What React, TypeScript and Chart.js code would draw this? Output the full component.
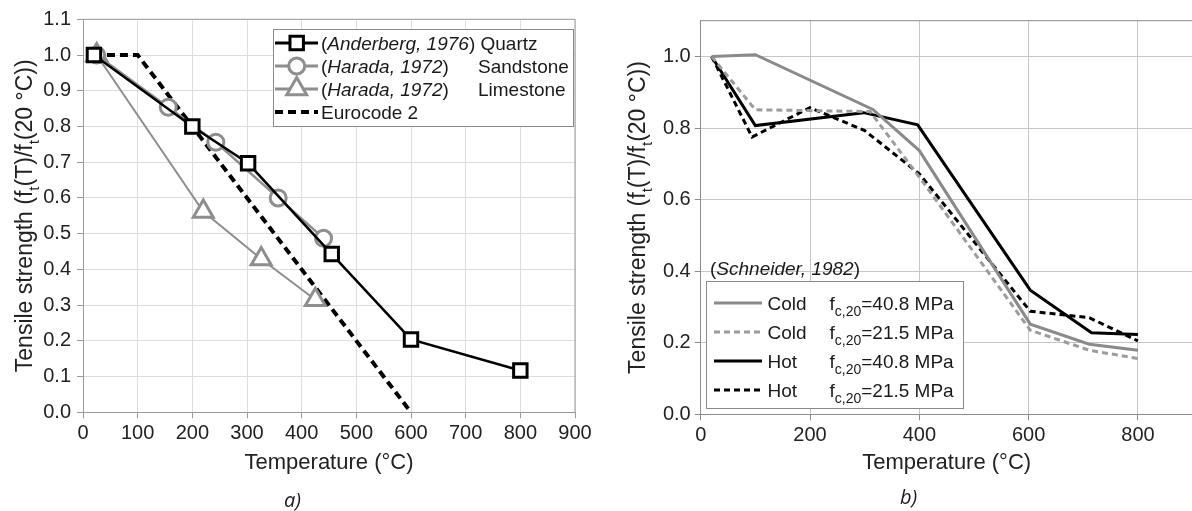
import React, { useEffect, useRef } from 'react';
import { Chart, registerables } from 'chart.js';

Chart.register(...registerables);

// ---------- Panel a) data ----------
const anderbergT = [20, 200, 302, 455, 600, 800];
const anderbergV = [1.0, 0.8, 0.697, 0.443, 0.204, 0.117];
const sandstoneT = [25, 156, 243, 357, 440];
const sandstoneV = [1.0, 0.854, 0.756, 0.6, 0.487];
const limestoneT = [25, 220, 326, 425];
const limestoneV = [1.0, 0.562, 0.429, 0.315];
const eurocodeT = [20, 100, 600];
const eurocodeV = [1.0, 1.0, 0.0];
const ticksXA = [0, 100, 200, 300, 400, 500, 600, 700, 800, 900];
const ticksYA = [0, 0.1, 0.2, 0.3, 0.4, 0.5, 0.6, 0.7, 0.8, 0.9, 1.0, 1.1];
const legendRefA = ['Anderberg, 1976', 'Harada, 1972', 'Harada, 1972', ''];
const legendNameA = ['Quartz', 'Sandstone', 'Limestone', 'Eurocode 2'];

// ---------- Panel b) data ----------
const coldHighT = [20, 100, 315, 400, 603, 711, 800];
const coldHighV = [1.0, 1.005, 0.852, 0.737, 0.252, 0.196, 0.179];
const coldLowT = [20, 100, 310, 400, 603, 711, 800];
const coldLowV = [1.0, 0.851, 0.846, 0.663, 0.235, 0.179, 0.156];
const hotHighT = [20, 100, 298, 397, 603, 715, 800];
const hotHighV = [1.0, 0.807, 0.843, 0.809, 0.347, 0.228, 0.223];
const hotLowT = [20, 94, 200, 300, 400, 603, 711, 800];
const hotLowV = [1.0, 0.775, 0.857, 0.793, 0.672, 0.288, 0.27, 0.205];
const ticksXB = [0, 200, 400, 600, 800];
const ticksYB = [0, 0.2, 0.4, 0.6, 0.8, 1.0];
const legendStateB = ['Cold', 'Cold', 'Hot', 'Hot'];
const legendStrengthB = ['40.8', '21.5', '40.8', '21.5'];
const sourceB = 'Schneider, 1982';

const xTitle = 'Temperature (°C)';
const captions = ['a)', 'b)'];

const FAMILY = '"Liberation Sans", Arial, sans-serif';
const TEXT = '#1a1a1a';

type Run = { t: string; it?: boolean; sub?: boolean; subSize?: number };

function setFont(ctx: any, r: Run, size: number) {
  const s = r.sub ? (r.subSize || Math.round(size * 0.66)) : size;
  ctx.font = `${r.it ? 'italic ' : ''}${s}px ${FAMILY}`;
}
function runsWidth(ctx: any, runs: Run[], size: number) {
  let w = 0;
  for (const r of runs) {
    setFont(ctx, r, size);
    w += ctx.measureText(r.t).width;
  }
  return w;
}
function drawRuns(ctx: any, x: number, y: number, runs: Run[], size: number, color = TEXT) {
  let cx = x;
  ctx.fillStyle = color;
  ctx.textBaseline = 'alphabetic';
  ctx.textAlign = 'left';
  for (const r of runs) {
    setFont(ctx, r, size);
    ctx.fillText(r.t, cx, y + (r.sub ? size * 0.3 : 0));
    cx += ctx.measureText(r.t).width;
  }
  return cx;
}

const yTitleRuns: Run[] = [
  { t: 'Tensile strength (f' },
  { t: 't', sub: true },
  { t: '(T)/f' },
  { t: 't', sub: true },
  { t: '(20 °C))' },
];

function drawYTitle(ctx: any, cx: number, cy: number, size: number) {
  ctx.save();
  ctx.translate(cx, cy);
  ctx.rotate(-Math.PI / 2);
  const w = runsWidth(ctx, yTitleRuns, size);
  drawRuns(ctx, -w / 2, size * 0.36, yTitleRuns, size, '#222');
  ctx.restore();
}

function drawMarker(ctx: any, style: string, x: number, y: number, r: number, stroke: string, lw: number) {
  ctx.save();
  ctx.setLineDash([]);
  ctx.lineWidth = lw;
  ctx.strokeStyle = stroke;
  ctx.fillStyle = '#ffffff';
  ctx.beginPath();
  if (style === 'rect') {
    const s = r * Math.SQRT1_2;
    ctx.rect(x - s, y - s, 2 * s, 2 * s);
  } else if (style === 'circle') {
    ctx.arc(x, y, r, 0, Math.PI * 2);
  } else if (style === 'triangle') {
    let a = 0;
    ctx.moveTo(x + Math.sin(a) * r, y - Math.cos(a) * r);
    a += (2 * Math.PI) / 3;
    ctx.lineTo(x + Math.sin(a) * r, y - Math.cos(a) * r);
    a += (2 * Math.PI) / 3;
    ctx.lineTo(x + Math.sin(a) * r, y - Math.cos(a) * r);
    ctx.closePath();
  }
  ctx.fill();
  ctx.stroke();
  ctx.restore();
}

function drawFrame(chart: any, color: string) {
  const { ctx, chartArea: a } = chart;
  ctx.save();
  ctx.strokeStyle = color;
  ctx.lineWidth = 1;
  ctx.setLineDash([]);
  ctx.beginPath();
  ctx.moveTo(a.left, a.top);
  ctx.lineTo(a.right, a.top);
  ctx.lineTo(a.right, a.bottom);
  ctx.stroke();
  ctx.restore();
}

const pts = (xs: number[], ys: number[]) => xs.map((x, i) => ({ x, y: ys[i] }));

const GRAY = '#8e8e8e';
const X_TITLE_SIZE = 22;
const Y_TITLE_SIZE = 23;

function makeChartA(canvas: HTMLCanvasElement) {
  const datasets: any[] = [
    {
      label: legendNameA[0], data: pts(anderbergT, anderbergV), borderColor: '#000', borderWidth: 2.5,
      pointStyle: 'rect', pointRadius: 9.5, pointBorderWidth: 3, pointBorderColor: '#000', pointBackgroundColor: '#fff', order: 0,
    },
    {
      label: legendNameA[1], data: pts(sandstoneT, sandstoneV), borderColor: GRAY, borderWidth: 2.5,
      pointStyle: 'circle', pointRadius: 8, pointBorderWidth: 3, pointBorderColor: GRAY, pointBackgroundColor: '#fff', order: 1,
    },
    {
      label: legendNameA[2], data: pts(limestoneT, limestoneV), borderColor: GRAY, borderWidth: 2,
      pointStyle: 'triangle', pointRadius: 11.5, pointBorderWidth: 3, pointBorderColor: GRAY, pointBackgroundColor: '#fff', order: 2,
    },
    {
      label: legendNameA[3], data: pts(eurocodeT, eurocodeV), borderColor: '#000', borderWidth: 4, borderDash: [8, 5],
      pointRadius: 0, order: 3,
    },
  ];
  const legendPlugin = {
    id: 'legendA',
    beforeDatasetsDraw(chart: any) { drawFrame(chart, '#9a9a9a'); },
    afterDatasetsDraw(chart: any) {
      const ctx = chart.ctx;
      const bx = 273, by = 29, bw = 300, bh = 97;
      ctx.save();
      ctx.fillStyle = '#fff';
      ctx.fillRect(bx, by, bw, bh);
      ctx.strokeStyle = '#8a8a8a';
      ctx.lineWidth = 1;
      ctx.strokeRect(bx + 0.5, by + 0.5, bw, bh);
      const rows = [43, 66, 89, 112];
      const styles = ['rect', 'circle', 'triangle', ''];
      datasets.forEach((ds, i) => {
        const y = rows[i];
        ctx.save();
        ctx.strokeStyle = ds.borderColor;
        ctx.lineWidth = i === 3 ? 4 : 3;
        ctx.setLineDash(ds.borderDash || []);
        ctx.beginPath();
        ctx.moveTo(275, y);
        ctx.lineTo(318, y);
        ctx.stroke();
        ctx.restore();
        if (styles[i]) drawMarker(ctx, styles[i], 296.7, y, ds.pointRadius, ds.pointBorderColor, 3);
        const base = y + 7;
        if (legendRefA[i]) {
          const end = drawRuns(ctx, 321, base, [{ t: '(' }, { t: legendRefA[i], it: true }, { t: ')' }], 19);
          if (i === 0) drawRuns(ctx, end, base, [{ t: ' ' + legendNameA[i] }], 19);
          else drawRuns(ctx, 478, base, [{ t: legendNameA[i] }], 19);
        } else {
          drawRuns(ctx, 321, base, [{ t: legendNameA[i] }], 19);
        }
      });
      ctx.restore();
    },
    afterDraw(chart: any) {
      const a = chart.chartArea;
      drawYTitle(chart.ctx, 24, (a.top + a.bottom) / 2, Y_TITLE_SIZE);
    },
  };
  return new Chart(canvas, {
    type: 'line',
    data: { datasets },
    options: {
      responsive: false,
      animation: false,
      devicePixelRatio: 1,
      layout: { padding: { left: 0, top: 19.3, right: 25, bottom: 0 } },
      plugins: { legend: { display: false }, tooltip: { enabled: false }, title: { display: false } },
      scales: {
        x: {
          type: 'linear', min: 0, max: 900,
          afterBuildTicks: (s: any) => { s.ticks = ticksXA.map((v) => ({ value: v })); },
          afterFit: (s: any) => { s.height = 511 - 412.3; },
          ticks: { font: { family: FAMILY, size: 20 }, color: '#222', padding: 3, callback: (v: any) => String(v) },
          grid: { color: '#dedede', tickColor: '#9a9a9a', tickLength: 6, drawTicks: true },
          border: { display: true, color: '#9a9a9a', width: 1 },
          title: { display: true, text: xTitle, color: '#222', font: { family: FAMILY, size: X_TITLE_SIZE, lineHeight: 1.2 }, padding: { top: 0, bottom: 34.8 } },
        },
        y: {
          type: 'linear', min: 0, max: 1.1,
          afterBuildTicks: (s: any) => { s.ticks = ticksYA.map((v) => ({ value: v })); },
          afterFit: (s: any) => { s.width = 83; },
          ticks: { font: { family: FAMILY, size: 20 }, color: '#222', padding: 6, callback: (v: any) => Number(v).toFixed(1) },
          grid: { color: '#dedede', tickColor: '#9a9a9a', tickLength: 6, drawTicks: true },
          border: { display: true, color: '#9a9a9a', width: 1 },
        },
      },
    },
    plugins: [legendPlugin],
  } as any);
}

function makeChartB(canvas: HTMLCanvasElement) {
  const datasets: any[] = [
    { label: 'Cold ' + legendStrengthB[0], data: pts(coldHighT, coldHighV), borderColor: '#8a8a8a', borderWidth: 3, pointRadius: 0 },
    { label: 'Cold ' + legendStrengthB[1], data: pts(coldLowT, coldLowV), borderColor: '#9c9c9c', borderWidth: 3, borderDash: [6, 4], pointRadius: 0 },
    { label: 'Hot ' + legendStrengthB[2], data: pts(hotHighT, hotHighV), borderColor: '#000', borderWidth: 3, pointRadius: 0 },
    { label: 'Hot ' + legendStrengthB[3], data: pts(hotLowT, hotLowV), borderColor: '#000', borderWidth: 3, borderDash: [6, 4], pointRadius: 0 },
  ];
  const legendPlugin = {
    id: 'legendB',
    beforeDatasetsDraw(chart: any) { drawFrame(chart, '#8c8c8c'); },
    afterDatasetsDraw(chart: any) {
      const ctx = chart.ctx;
      const bx = 106, by = 281, bw = 257, bh = 127;
      ctx.save();
      ctx.fillStyle = '#fff';
      ctx.fillRect(bx, by, bw, bh);
      ctx.strokeStyle = '#8a8a8a';
      ctx.lineWidth = 1;
      ctx.strokeRect(bx + 0.5, by + 0.5, bw, bh);
      drawRuns(ctx, 110, 275, [{ t: '(' }, { t: sourceB, it: true }, { t: ')' }], 19);
      const rows = [303, 332, 361, 390];
      datasets.forEach((ds, i) => {
        const y = rows[i];
        ctx.save();
        ctx.strokeStyle = ds.borderColor;
        ctx.lineWidth = 3;
        ctx.setLineDash(ds.borderDash || []);
        ctx.beginPath();
        ctx.moveTo(114, y);
        ctx.lineTo(162, y);
        ctx.stroke();
        ctx.restore();
        const base = y + 7;
        drawRuns(ctx, 167.5, base, [{ t: legendStateB[i] }], 19);
        drawRuns(ctx, 229.5, base, [
          { t: 'f' },
          { t: 'c,20', sub: true, subSize: 14 },
          { t: '=' + legendStrengthB[i] + ' MPa' },
        ], 19);
      });
      ctx.restore();
    },
    afterDraw(chart: any) {
      const a = chart.chartArea;
      drawYTitle(chart.ctx, 37, (a.top + a.bottom) / 2, Y_TITLE_SIZE);
    },
  };
  return new Chart(canvas, {
    type: 'line',
    data: { datasets },
    options: {
      responsive: false,
      animation: false,
      devicePixelRatio: 1,
      layout: { padding: { left: 0, top: 20.7, right: 7.4, bottom: 0 } },
      plugins: { legend: { display: false }, tooltip: { enabled: false }, title: { display: false } },
      scales: {
        x: {
          type: 'linear', min: 0, max: 900,
          afterBuildTicks: (s: any) => { s.ticks = ticksXB.map((v) => ({ value: v })); },
          afterFit: (s: any) => { s.height = 511 - 414.3; },
          ticks: { font: { family: FAMILY, size: 20 }, color: '#222', padding: 3, callback: (v: any) => String(v) },
          grid: { color: '#c6c6c6', tickColor: '#8c8c8c', tickLength: 6, drawTicks: true },
          border: { display: true, color: '#8c8c8c', width: 1 },
          title: { display: true, text: xTitle, color: '#222', font: { family: FAMILY, size: X_TITLE_SIZE, lineHeight: 1.2 }, padding: { top: 0, bottom: 34.8 } },
        },
        y: {
          type: 'linear', min: 0, max: 1.1,
          afterBuildTicks: (s: any) => { s.ticks = ticksYB.map((v) => ({ value: v })); },
          afterFit: (s: any) => { s.width = 100.7; },
          ticks: { font: { family: FAMILY, size: 20 }, color: '#222', padding: 4, callback: (v: any) => Number(v).toFixed(1) },
          grid: { color: '#c6c6c6', tickColor: '#8c8c8c', tickLength: 6, drawTicks: true },
          border: { display: true, color: '#8c8c8c', width: 1 },
        },
      },
    },
    plugins: [legendPlugin],
  } as any);
}

export default function App() {
  const refA = useRef<HTMLCanvasElement | null>(null);
  const refB = useRef<HTMLCanvasElement | null>(null);
  useEffect(() => {
    const a = refA.current ? makeChartA(refA.current) : null;
    const b = refB.current ? makeChartB(refB.current) : null;
    return () => {
      if (a) a.destroy();
      if (b) b.destroy();
    };
  }, []);
  const capStyle: React.CSSProperties = {
    position: 'absolute', width: 60, textAlign: 'center',
    font: 'italic 20px "Open Sans", "Liberation Sans", sans-serif', color: '#1a1a1a', lineHeight: '28px',
  };
  return (
    <div style={{ position: 'fixed', left: 0, top: 0, width: 1192, height: 511, overflow: 'hidden', background: '#fff' }}>
      <div style={{ position: 'absolute', left: 0, top: 0, width: 600, height: 511 }}>
        <canvas ref={refA} width={600} height={511} style={{ width: 600, height: 511, display: 'block' }} />
      </div>
      <div style={{ position: 'absolute', left: 600, top: 0, width: 600, height: 511 }}>
        <canvas ref={refB} width={600} height={511} style={{ width: 600, height: 511, display: 'block' }} />
      </div>
      <div style={{ ...capStyle, left: 262.5, top: 486 }}>{captions[0]}</div>
      <div style={{ ...capStyle, left: 878.7, top: 483 }}>{captions[1]}</div>
    </div>
  );
}
